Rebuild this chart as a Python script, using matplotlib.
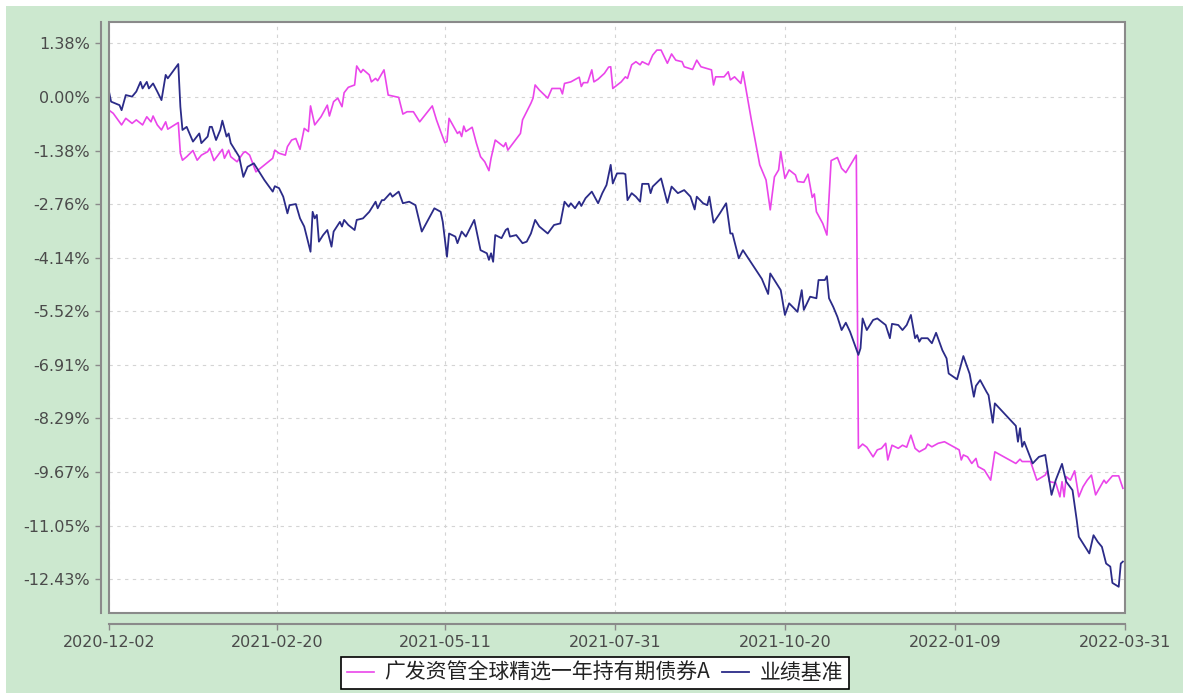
import matplotlib
matplotlib.use("Agg")
import matplotlib.pyplot as plt
import pandas as pd
from matplotlib.patches import Rectangle
from matplotlib.font_manager import FontProperties

# ticks in DejaVu Sans, legend gets the CJK family explicitly
plt.rcParams['font.family'] = ['DejaVu Sans']

start_date = "2020-12-02"
tick_dates = ["2020-12-02", "2021-02-20", "2021-05-11", "2021-07-31",
              "2021-10-20", "2022-01-09", "2022-03-31"]
y_ticks = [1.38, 0.00, -1.38, -2.76, -4.14, -5.52, -6.91, -8.29, -9.67, -11.05, -12.43]

fund_name = "广发资管全球精选一年持有期债券A"
bench_name = "业绩基准"

# days since start date, cumulative return in %
fund_days = [0, 2, 6, 8, 11, 13, 16, 18, 20, 21, 23, 25, 27, 28, 33, 34, 35, 37, 40, 42,
             44, 47, 48, 50, 54, 55, 57, 58, 61, 64, 65, 67, 70, 78, 79, 81, 84, 85, 87, 89,
             91, 93, 95, 96, 98, 101, 104, 105, 107, 109, 111, 112, 114, 117, 118, 120, 121, 124, 125, 127,
             128, 131, 133, 138, 140, 142, 145, 148, 154, 156, 158, 160, 161, 162, 166, 167, 168, 169, 170, 173,
             175, 177, 179, 181, 182, 184, 188, 189, 190, 196, 197, 201, 202, 203, 205, 209, 211, 215, 216, 217,
             220, 224, 225, 226, 228, 230, 231, 233, 236, 238, 239, 240, 243, 244, 246, 247, 249, 251, 253, 254,
             257, 259, 261, 263, 266, 268, 270, 273, 274, 278, 280, 282, 287, 288, 289, 293, 295, 296, 298, 301,
             302, 306, 310, 313, 315, 317, 319, 320, 322, 324, 327, 328, 331, 333, 335, 336, 337, 340, 342, 344,
             347, 349, 351, 356, 357, 359, 361, 364, 366, 368, 370, 371, 373, 376, 378, 380, 382, 384, 386, 389,
             390, 392, 395, 398, 401, 405, 406, 407, 409, 411, 413, 414, 417, 420, 422, 432, 434, 435, 439, 442,
             446, 447, 448, 451, 453, 454, 455, 456, 458, 460, 462, 464, 466, 468, 470, 474, 475, 478, 481, 483]
fund_vals = [-0.34, -0.42, -0.72, -0.55, -0.68, -0.59, -0.72, -0.51, -0.64, -0.49, -0.72, -0.85, -0.64, -0.83, -0.66, -1.45, -1.63, -1.54, -1.38, -1.63,
             -1.50, -1.41, -1.32, -1.64, -1.35, -1.58, -1.37, -1.54, -1.67, -1.44, -1.41, -1.50, -1.93, -1.58, -1.37, -1.45, -1.50, -1.28, -1.11, -1.07,
             -1.35, -0.81, -0.89, -0.23, -0.72, -0.51, -0.21, -0.49, -0.12, -0.03, -0.25, 0.11, 0.25, 0.31, 0.80, 0.63, 0.71, 0.57, 0.39, 0.48,
             0.42, 0.70, 0.05, -0.01, -0.44, -0.38, -0.38, -0.64, -0.23, -0.59, -0.89, -1.18, -1.15, -0.55, -0.94, -0.89, -1.02, -0.75, -0.89, -0.78,
             -1.19, -1.54, -1.67, -1.90, -1.58, -1.11, -1.28, -1.18, -1.37, -0.94, -0.59, -0.16, -0.03, 0.31, 0.18, -0.03, 0.22, 0.22, 0.08, 0.35,
             0.39, 0.51, 0.27, 0.37, 0.37, 0.70, 0.39, 0.46, 0.61, 0.77, 0.78, 0.22, 0.35, 0.39, 0.52, 0.48, 0.83, 0.91, 0.83, 0.91,
             0.83, 1.08, 1.21, 1.21, 0.87, 1.11, 0.95, 0.91, 0.78, 0.71, 0.95, 0.78, 0.70, 0.31, 0.52, 0.52, 0.65, 0.44, 0.52, 0.35,
             0.65, -0.59, -1.75, -2.14, -2.91, -2.06, -1.88, -1.41, -2.10, -1.88, -2.01, -2.18, -2.20, -1.99, -2.59, -2.50, -2.96, -3.26, -3.56, -1.64,
             -1.56, -1.84, -1.95, -1.50, -9.06, -8.95, -9.03, -9.28, -9.10, -9.06, -8.93, -9.36, -8.98, -9.06, -8.98, -9.03, -8.72, -9.06, -9.15, -9.06,
             -8.95, -9.02, -8.93, -8.89, -8.98, -9.10, -9.36, -9.23, -9.28, -9.45, -9.32, -9.53, -9.62, -9.88, -9.15, -9.45, -9.34, -9.40, -9.40, -9.88,
             -9.75, -9.64, -9.92, -9.95, -10.31, -9.92, -10.31, -9.79, -9.88, -9.64, -10.31, -10.05, -9.88, -9.75, -10.26, -9.88, -9.96, -9.77, -9.77, -10.09]

bench_days = [0, 1, 5, 6, 8, 11, 13, 15, 16, 18, 19, 21, 23, 25, 27, 28, 33, 34, 35, 37,
              40, 43, 44, 47, 48, 49, 51, 53, 54, 56, 57, 58, 62, 64, 66, 69, 71, 74, 78, 79,
              81, 83, 85, 86, 89, 91, 93, 96, 97, 98, 99, 100, 102, 104, 106, 107, 110, 111, 112, 114,
              117, 118, 121, 124, 127, 128, 130, 131, 134, 135, 138, 140, 143, 146, 149, 152, 155, 158, 159, 161,
              162, 165, 166, 168, 170, 174, 177, 180, 181, 182, 183, 184, 187, 189, 190, 191, 194, 197, 199, 201,
              203, 205, 209, 212, 215, 217, 219, 220, 222, 224, 225, 227, 230, 233, 235, 237, 239, 240, 242, 245,
              246, 247, 249, 251, 253, 254, 257, 258, 259, 263, 266, 268, 271, 274, 277, 279, 280, 283, 285, 286,
              288, 291, 294, 296, 297, 300, 302, 311, 314, 315, 320, 322, 324, 328, 330, 331, 334, 337, 338, 341,
              342, 343, 345, 347, 349, 351, 353, 355, 357, 358, 359, 361, 364, 366, 370, 372, 373, 376, 378, 380,
              382, 384, 385, 386, 387, 390, 392, 394, 397, 399, 400, 404, 407, 410, 412, 413, 415, 418, 419, 421,
              422, 432, 433, 434, 435, 436, 440, 443, 446, 449, 451, 454, 455, 456, 459, 461, 462, 467, 469, 471,
              473, 475, 477, 478, 481, 482, 483]
bench_vals = [0.14, -0.12, -0.21, -0.34, 0.05, 0.01, 0.14, 0.39, 0.22, 0.39, 0.22, 0.35, 0.14, -0.08, 0.57, 0.48, 0.85, -0.25, -0.85, -0.77,
              -1.15, -0.94, -1.19, -1.02, -0.77, -0.77, -1.11, -0.85, -0.61, -1.02, -0.94, -1.19, -1.54, -2.06, -1.80, -1.71, -1.88, -2.14, -2.44, -2.30,
              -2.35, -2.57, -3.00, -2.79, -2.76, -3.13, -3.34, -3.99, -2.96, -3.13, -3.04, -3.73, -3.56, -3.43, -3.86, -3.47, -3.22, -3.34, -3.17, -3.30,
              -3.43, -3.17, -3.13, -2.96, -2.70, -2.87, -2.66, -2.66, -2.48, -2.57, -2.44, -2.74, -2.70, -2.79, -3.47, -3.17, -2.87, -2.96, -3.22, -4.12,
              -3.52, -3.60, -3.77, -3.47, -3.60, -3.17, -3.95, -4.03, -4.20, -4.03, -4.25, -3.56, -3.64, -3.43, -3.39, -3.60, -3.56, -3.77, -3.73, -3.52,
              -3.17, -3.34, -3.52, -3.30, -3.26, -2.70, -2.83, -2.74, -2.87, -2.70, -2.81, -2.61, -2.44, -2.74, -2.48, -2.27, -1.75, -2.23, -1.97, -1.97,
              -1.99, -2.66, -2.48, -2.57, -2.70, -2.24, -2.24, -2.48, -2.31, -2.10, -2.73, -2.31, -2.48, -2.40, -2.57, -2.90, -2.57, -2.74, -2.79, -2.57,
              -3.24, -3.00, -2.74, -3.52, -3.52, -4.16, -3.95, -4.69, -5.08, -4.55, -4.98, -5.62, -5.32, -5.54, -4.98, -5.49, -5.15, -5.19, -4.72, -4.72,
              -4.62, -5.19, -5.41, -5.67, -6.01, -5.82, -6.05, -6.35, -6.65, -6.48, -5.71, -6.01, -5.75, -5.71, -5.88, -6.22, -5.85, -5.88, -6.01, -5.88,
              -5.62, -6.22, -6.14, -6.31, -6.22, -6.22, -6.35, -6.08, -6.53, -6.74, -7.13, -7.28, -6.68, -7.14, -7.73, -7.45, -7.30, -7.60, -7.69, -8.40,
              -7.90, -8.48, -8.89, -8.54, -9.02, -8.89, -9.45, -9.28, -9.23, -10.26, -9.88, -9.46, -9.70, -9.92, -10.14, -10.91, -11.34, -11.77, -11.30, -11.47,
              -11.60, -12.03, -12.11, -12.53, -12.63, -12.03, -11.98]

start = pd.Timestamp(start_date)
fund_x = start + pd.to_timedelta(fund_days, unit="D")
bench_x = start + pd.to_timedelta(bench_days, unit="D")
ticks_x = pd.to_datetime(tick_dates)

W, H = 1183, 693
fig = plt.figure(figsize=(W / 100, H / 100), dpi=100, facecolor="white")
# green panel behind everything, leaving a thin white margin on top and left
bg = fig.add_axes([6 / W, 0, 1 - 6 / W, 1 - 6 / H], zorder=-10)
bg.set_facecolor("#cce8cf")
bg.set_xticks([])
bg.set_yticks([])
for s in bg.spines.values():
    s.set_visible(False)

ax = fig.add_axes([109 / W, 1 - 613 / H, (1125 - 109) / W, (613 - 22) / H])
ax.set_facecolor("white")

ax.plot(fund_x, fund_vals, color="#ea45ea", lw=1.2, label=fund_name)
ax.plot(bench_x, bench_vals, color="#2b2b88", lw=1.3, label=bench_name)

ax.set_xlim(ticks_x[0], ticks_x[-1])
ax.set_ylim(-13.306, 1.934)
ax.set_xticks(ticks_x)
ax.set_xticklabels(tick_dates)
ax.set_yticks(y_ticks)
ax.set_yticklabels([f"{v:.2f}%" for v in y_ticks])

ax.grid(True, color="#d4d4d4", linestyle=(0, (3, 4)), lw=0.8)
ax.set_axisbelow(True)

frame_col = "#8a8a8a"
for s in ["top", "right"]:
    ax.spines[s].set_visible(False)
ax.spines["left"].set_position(("outward", 6))
ax.spines["bottom"].set_position(("outward", 8))
ax.spines["left"].set_color(frame_col)
ax.spines["bottom"].set_color(frame_col)
ax.spines["left"].set_linewidth(1.5)
ax.spines["bottom"].set_linewidth(1.5)
ax.add_patch(Rectangle((0, 0), 1, 1, transform=ax.transAxes, fill=False,
                       edgecolor=frame_col, lw=1.5, clip_on=False, zorder=5))

ax.tick_params(axis="both", direction="out", length=4, width=1, color=frame_col,
               labelcolor="#4a4a4a", labelsize=11.5)
ax.tick_params(axis="x", pad=4)

leg_font = FontProperties(family=['Noto Sans CJK SC', 'DejaVu Sans'], size=15)
leg = fig.legend(loc="center", bbox_to_anchor=(595 / W, 1 - 673 / H), ncol=2,
                 frameon=True, fancybox=False, edgecolor="black", framealpha=1,
                 prop=leg_font, handlelength=1.3, handletextpad=0.5, columnspacing=0.6,
                 borderpad=0.25, borderaxespad=0)
leg.get_frame().set_linewidth(1.2)
for t in leg.get_texts():
    t.set_color("#222222")

fig.savefig("out.png", dpi=100, facecolor=fig.get_facecolor())
